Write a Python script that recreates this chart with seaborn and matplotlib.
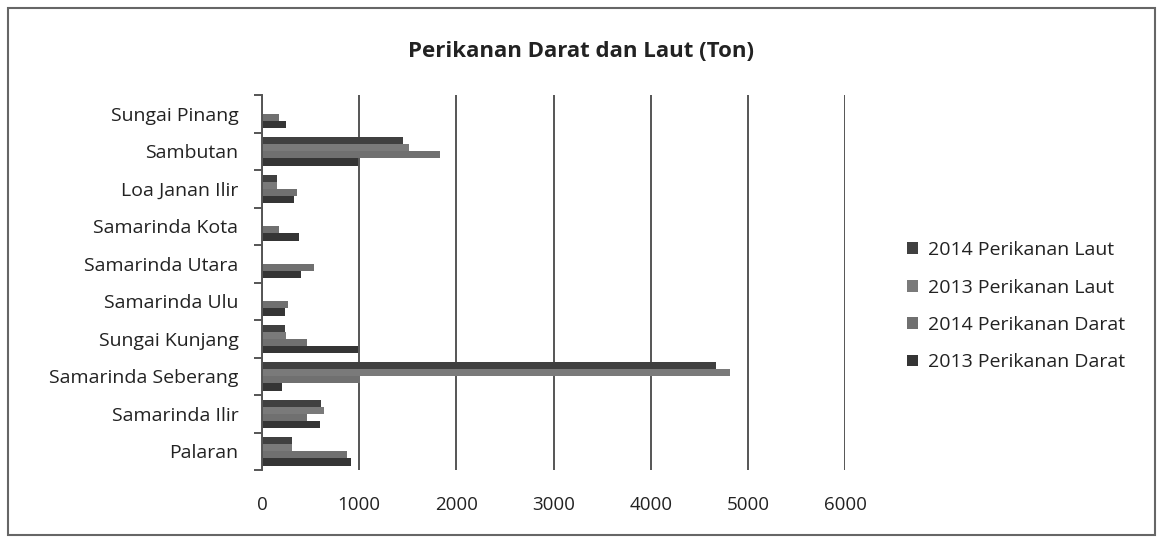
import pandas as pd
import matplotlib.pyplot as plt
import seaborn as sns
from matplotlib.patches import Rectangle
from matplotlib.ticker import FixedLocator

# Data (ton), kategori dari atas ke bawah
kecamatan = ['Sungai Pinang', 'Sambutan', 'Loa Janan Ilir', 'Samarinda Kota',
             'Samarinda Utara', 'Samarinda Ulu', 'Sungai Kunjang',
             'Samarinda Seberang', 'Samarinda Ilir', 'Palaran']
laut_2014 = [0, 1450, 155, 0, 0, 0, 234, 4670, 611, 306]
laut_2013 = [0, 1510, 155, 0, 0, 0, 251, 4820, 635, 306]
darat_2014 = [175, 1830, 364, 175, 535, 268, 463, 1005, 463, 875]
darat_2013 = [251, 990, 326, 381, 405, 234, 990, 210, 594, 913]

seri = ['2014 Perikanan Laut', '2013 Perikanan Laut',
        '2014 Perikanan Darat', '2013 Perikanan Darat']
warna = ['#404040', '#7a7a7a', '#707070', '#353535']

df = pd.DataFrame({'kecamatan': kecamatan, seri[0]: laut_2014, seri[1]: laut_2013,
                   seri[2]: darat_2014, seri[3]: darat_2013})
long_df = df.melt(id_vars='kecamatan', var_name='seri', value_name='ton')

sns.set_theme(style='white')
plt.rcParams['font.family'] = ['Open Sans', 'DejaVu Sans']

fig = plt.figure(figsize=(11.63, 5.44), dpi=100)
ax = fig.add_axes([0.2253, 0.136, 0.5013, 0.6893])

sns.barplot(data=long_df, y='kecamatan', x='ton', hue='seri', hue_order=seri,
            order=kecamatan, palette=warna, orient='h', width=0.76, gap=0,
            saturation=1, linewidth=0, ax=ax, zorder=3)

ax.set_xlim(0, 6000)
ax.set_ylim(len(kecamatan) - 0.5, -0.5)
ax.set_xticks(range(0, 7000, 1000))
ax.set_xlabel('')
ax.set_ylabel('')
ax.grid(axis='x', color='#555555', linewidth=1.4, zorder=0)
ax.grid(axis='y', visible=False)
for s in ['top', 'right', 'bottom']:
    ax.spines[s].set_visible(False)
ax.spines['left'].set_color('#555555')
ax.spines['left'].set_linewidth(1.4)
ax.spines['left'].set_zorder(4)

ax.tick_params(axis='x', length=0, pad=19, labelsize=13.5, labelcolor='#222222')
ax.tick_params(axis='y', which='major', length=0, pad=17, labelsize=14, labelcolor='#222222')
ax.yaxis.set_minor_locator(FixedLocator([i - 0.5 for i in range(len(kecamatan) + 1)]))
ax.tick_params(axis='y', which='minor', left=True, length=6, width=1.4, color='#555555')

fig.text(0.5, 0.905, 'Perikanan Darat dan Laut (Ton)', ha='center', va='center',
         fontsize=16, fontweight='bold', color='#222222')

leg = ax.legend(loc='center left', bbox_to_anchor=(0.765, 0.437),
                bbox_transform=fig.transFigure, frameon=False, fontsize=14,
                handlelength=0.55, handleheight=0.55, labelspacing=1.0,
                handletextpad=0.5)
for t in leg.get_texts():
    t.set_color('#222222')

fig.add_artist(Rectangle((0.0069, 0.0165), 0.986, 0.969, transform=fig.transFigure,
                         fill=False, edgecolor='#666666', linewidth=1.5))

fig.savefig('out.png', dpi=100)
